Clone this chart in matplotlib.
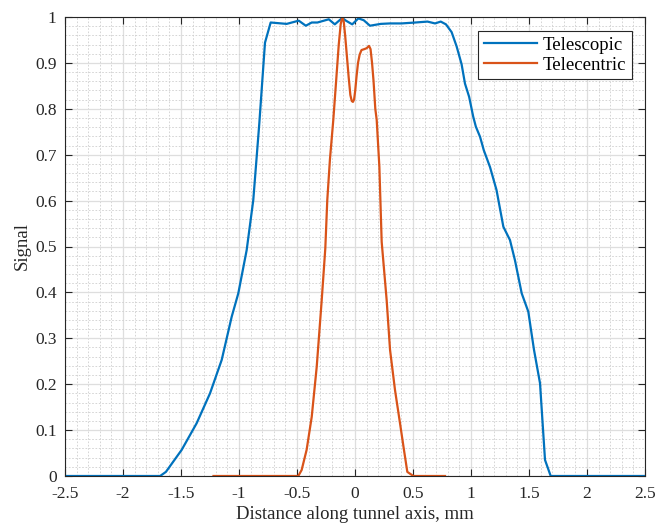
import numpy as np
import matplotlib.pyplot as plt
from matplotlib.ticker import MultipleLocator

# signal profiles along the tunnel axis (mm)
x_scope = [-2.5, -1.68, -1.63, -1.494, -1.365, -1.25, -1.149, -1.063, -1.006, -0.934,
           -0.877, -0.825, -0.776, -0.727, -0.589, -0.485, -0.424, -0.373, -0.324,
           -0.226, -0.174, -0.11, -0.078, -0.024, 0.029, 0.075, 0.129, 0.222, 0.302,
           0.402, 0.52, 0.625, 0.69, 0.739, 0.784, 0.833, 0.876, 0.919, 0.948, 0.984,
           1.019, 1.042, 1.078, 1.11, 1.164, 1.22, 1.279, 1.336, 1.379, 1.437, 1.494,
           1.543, 1.595, 1.638, 1.687, 2.5]
y_scope = [0, 0, 0.009, 0.057, 0.115, 0.18, 0.253, 0.347, 0.398, 0.492,
           0.601, 0.768, 0.944, 0.988, 0.985, 0.992, 0.981, 0.988, 0.988,
           0.995, 0.984, 0.998, 0.992, 0.984, 0.997, 0.993, 0.981, 0.985, 0.986,
           0.986, 0.988, 0.990, 0.986, 0.990, 0.984, 0.967, 0.936, 0.897, 0.855, 0.826,
           0.783, 0.761, 0.739, 0.710, 0.673, 0.623, 0.543, 0.514, 0.470, 0.398, 0.358,
           0.275, 0.202, 0.035, 0, 0]

x_centric = [-1.22, -0.489, -0.46, -0.417, -0.373, -0.33, -0.287, -0.256, -0.239, -0.216,
             -0.187, -0.16, -0.14, -0.123, -0.109, -0.097, -0.085, -0.07, -0.055, -0.04,
             -0.028, -0.018, -0.008, 0.002, 0.013, 0.026, 0.04, 0.056, 0.08, 0.1, 0.121,
             0.134, 0.147, 0.16, 0.175, 0.187, 0.21, 0.23, 0.273, 0.302, 0.345, 0.388,
             0.422, 0.451, 0.503, 0.776]
y_centric = [0, 0, 0.013, 0.057, 0.129, 0.238, 0.383, 0.496, 0.601, 0.69,
             0.776, 0.87, 0.94, 0.985, 1.0, 0.99, 0.96, 0.915, 0.87, 0.83,
             0.817, 0.815, 0.82, 0.84, 0.87, 0.9, 0.918, 0.928, 0.93, 0.932, 0.937,
             0.93, 0.9, 0.86, 0.80, 0.776, 0.674, 0.51, 0.383, 0.275, 0.187, 0.115,
             0.057, 0.009, 0, 0]

plt.rcParams['font.family'] = ['Liberation Serif', 'DejaVu Serif']

fig = plt.figure(figsize=(6.57, 5.27), dpi=100)
ax = fig.add_axes([65 / 657, 51 / 527, 580 / 657, 459 / 527])

ax.plot(x_scope, y_scope, color='#0072BD', lw=1.6, label='Telescopic')
ax.plot(x_centric, y_centric, color='#D95319', lw=1.6, label='Telecentric')

ax.set_xlim(-2.5, 2.5)
ax.set_ylim(0, 1)
ax.xaxis.set_minor_locator(MultipleLocator(0.1))
ax.yaxis.set_minor_locator(MultipleLocator(0.02))
ax.set_xticks(np.arange(-2.5, 2.51, 0.5))
ax.set_xticklabels(['-2.5', '-2', '-1.5', '-1', '-0.5', '0', '0.5', '1', '1.5', '2', '2.5'])
ax.set_yticks(np.arange(0, 1.01, 0.1))
ax.set_yticklabels(['0', '0.1', '0.2', '0.3', '0.4', '0.5', '0.6', '0.7', '0.8', '0.9', '1'])

ax.grid(which='major', color='#dedede', lw=0.9, ls='-')
ax.grid(which='minor', color='#cfcfcf', lw=0.6, ls=(0, (2, 2)))
ax.set_axisbelow(True)

ax.tick_params(which='major', direction='in', length=5, top=True, right=True,
               labelsize=12.5, colors='#262626', pad=7)
ax.tick_params(axis='y', which='major', pad=6)
ax.tick_params(which='minor', length=0)
for s in ax.spines.values():
    s.set_color('#262626')
    s.set_linewidth(0.8)

ax.set_xlabel('Distance along tunnel axis, mm', fontsize=13.5, color='#262626', labelpad=3)
ax.set_ylabel('Signal', fontsize=13.5, color='#262626', labelpad=3)

leg = ax.legend(loc='upper right', bbox_to_anchor=(632 / 657, 496 / 527),
                bbox_transform=fig.transFigure, fontsize=13.5, fancybox=False,
                framealpha=1, edgecolor='#262626', borderpad=0.3, handlelength=2.85,
                handletextpad=0.3, labelspacing=0.15, borderaxespad=0)
leg.get_frame().set_linewidth(0.8)

fig.savefig('out.png', dpi=100)
